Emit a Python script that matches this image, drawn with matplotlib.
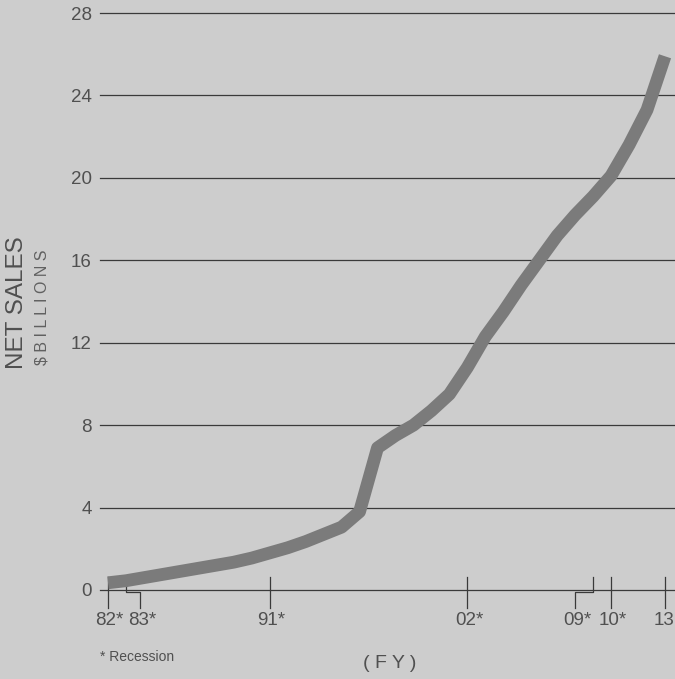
import matplotlib
matplotlib.use("Agg")
import matplotlib.pyplot as plt

# Net sales by fiscal year, $ billions
years = list(range(1982, 2014))
net_sales = [0.35, 0.45, 0.6, 0.75, 0.9, 1.05, 1.2, 1.35, 1.55, 1.8,
             2.05, 2.35, 2.7, 3.05, 3.8, 6.9, 7.5, 8.0, 8.7, 9.5,
             10.8, 12.3, 13.5, 14.8, 16.0, 17.2, 18.2, 19.1, 20.1, 21.6,
             23.3, 25.9]

y_ticks = [0, 4, 8, 12, 16, 20, 24, 28]
x_tick_years = [1982, 1983, 1991, 2002, 2009, 2010, 2013]
x_tick_labels = ["82*", "83*", "91*", "02*", "09*", "10*", "13"]

BG = "#cdcdcd"
INK = "#3a3a3a"
LINE = "#7b7b7b"

family = ["Liberation Sans", "DejaVu Sans"]

W, H = 675, 679
fig = plt.figure(figsize=(W / 100, H / 100), dpi=100, facecolor=BG)

# axes box in pixels: x 100..675, y(0) at 590, y(28) at 13
left, right = 100, 675
y0_px, y28_px = 590, 13
ax = fig.add_axes([left / W, (H - y0_px) / H, (right - left) / W,
                   (y0_px - y28_px) / H])
ax.set_facecolor("none")

px_per_year = (665 - 108) / 31
ax.set_xlim(1982 - (108 - left) / px_per_year, 2013 + (right - 665) / px_per_year)
ax.set_ylim(0, 28)

for s in ax.spines.values():
    s.set_visible(False)

# horizontal rules
for v in y_ticks:
    ax.axhline(v, color=INK, lw=0.9, zorder=1, clip_on=False)

ax.set_yticks(y_ticks)
ax.set_yticklabels([str(v) for v in y_ticks], fontsize=13.5, color="#505050",
                   family=family)
ax.tick_params(axis="y", length=0, pad=6)
ax.set_xticks([])

# sales line
ax.plot(years, net_sales, color=LINE, lw=9.2, solid_joinstyle="round",
        solid_capstyle="butt", zorder=3, clip_on=False)

# x ticks, some with a jog so labels do not collide
label_shift = {1983: 0.78, 2009: -1.0}
t_top, t_mid, t_bot = 0.65, -0.12, -0.85
for yr, lab in zip(x_tick_years, x_tick_labels):
    dx = label_shift.get(yr, 0.0)
    if dx:
        xs = [yr, yr, yr + dx, yr + dx]
        ys = [t_top, t_mid, t_mid, t_bot]
    else:
        xs = [yr, yr]
        ys = [t_top, t_bot]
    ax.plot(xs, ys, color=INK, lw=0.9, zorder=2, clip_on=False)
    nudge = 0.1 if yr != x_tick_years[-1] else -0.05
    ax.text(yr + dx + nudge, -1.05, lab, ha="center", va="top", fontsize=13.5,
            color="#505050", family=family, clip_on=False)

# axis titles
fig.text(17 / W, 1 - 303 / H, "NET SALES", rotation=90, ha="center",
         va="center", fontsize=17.5, color="#505050", family=family)
fig.text(42 / W, 1 - 307 / H, "$ B I L L I O N S", rotation=90, ha="center",
         va="center", fontsize=11.5, color="#606060", family=family)
fig.text(390 / W, 1 - 663 / H, "( F Y )", ha="center", va="center",
         fontsize=14, color="#505050", family=family)
fig.text(100 / W, 1 - 657 / H, "* Recession", ha="left", va="center",
         fontsize=10, color="#505050", family=family)

fig.savefig("out.png", dpi=100, facecolor=BG)
